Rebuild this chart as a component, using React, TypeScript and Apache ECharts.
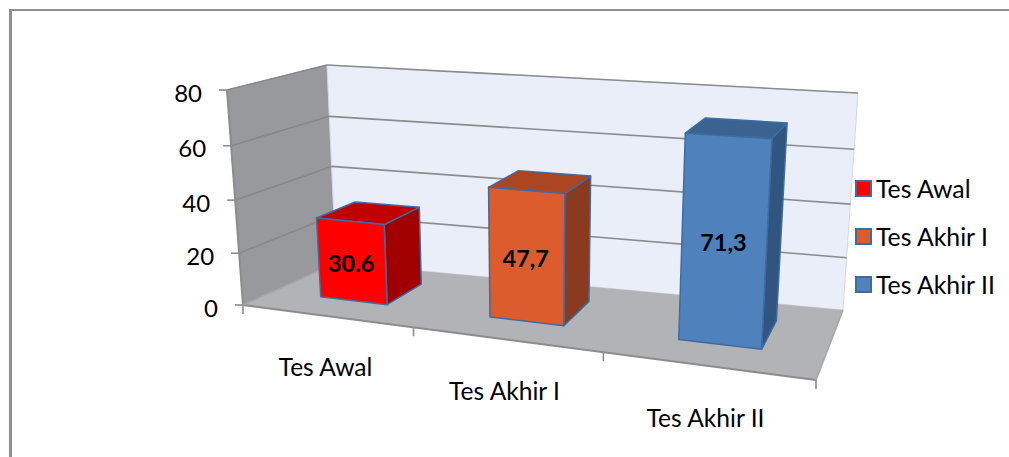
import React, { useEffect, useRef } from "react";
import * as echarts from "echarts";

const categories = ["Tes Awal", "Tes Akhir I", "Tes Akhir II"];
const seriesValues = [30.6, 47.7, 71.3];
const valueLabels = ["30.6", "47,7", "71,3"];
const yTicks = [0, 20, 40, 60, 80];
const frontColors = ["#ff0000", "#dd5c2e", "#4f81bd"];
const topColors = ["#c00000", "#ab4522", "#3b6392"];
const sideColors = ["#a00000", "#8a3a1e", "#2f5580"];
const categoryLabelPos = [[325.5, 366], [504.5, 390], [705.5, 417]];

const FONT = "Lato, Carlito, sans-serif";
const OUTLINE = "#3e6c9f";
const GRID = { left: 100, top: 100, width: 300, height: 300 };

// Box corners on screen: floor and ceiling planes of the 3D chart
const FLOOR = { fl: [243, 305], fr: [816, 380], bl: [336, 263], br: [843, 310] };
const CEIL = { fl: [227, 90], fr: [831, 127], bl: [327, 65], br: [858, 93] };
const U_WARP = 0.18;
const H_WARP = 0.05;
const BAR_U = 0.135;
const BAR_W0 = 0.33;
const BAR_W1 = 0.76;

type Pt = number[];
const lerp = (a: Pt, b: Pt, t: number): Pt => [a[0] + (b[0] - a[0]) * t, a[1] + (b[1] - a[1]) * t];
const plane = (q: typeof FLOOR, u: number, w: number): Pt => {
  const uw = u / (1 + U_WARP * (1 - u));
  return lerp(lerp(q.fl, q.fr, uw), lerp(q.bl, q.br, uw), w);
};
const project = (u: number, w: number, h: number): Pt => {
  const hw = h / (1 + H_WARP * (1 - h));
  return lerp(plane(FLOOR, u, w), plane(CEIL, u, w), hw);
};
const poly = (points: Pt[], fill: string, stroke?: string, lineWidth = 1) => ({
  type: "polygon",
  shape: { points },
  style: { fill, stroke: stroke ?? "none", lineWidth, lineJoin: "round" },
  silent: true,
});
const seg = (a: Pt, b: Pt, stroke: string, lineWidth = 1.6) => ({
  type: "line",
  shape: { x1: a[0], y1: a[1], x2: b[0], y2: b[1] },
  style: { stroke, lineWidth },
  silent: true,
});
const label = (text: string, x: number, y: number, size: number, align: string, weight = "normal") => ({
  type: "text",
  style: {
    text, x, y, fill: "#000", fontSize: size, fontFamily: FONT, fontWeight: weight,
    align, verticalAlign: "middle",
  },
  silent: true,
});

const frameItem = (_p: any, api: any) => {
  const toH = (v: number) => (GRID.top + GRID.height - api.coord([0, v])[1]) / GRID.height;
  const children: any[] = [
    poly([project(0, 0, 0), project(0, 1, 0), project(0, 1, 1), project(0, 0, 1)], "#97999c", "#a9abae"),
    poly([project(0, 1, 0), project(1, 1, 0), project(1, 1, 1), project(0, 1, 1)], "#e9eef8", "#d4d8e0"),
    poly([project(0, 0, 0), project(1, 0, 0), project(1, 1, 0), project(0, 1, 0)], "#b1b3b6"),
  ];
  yTicks.forEach((t) => {
    const h = toH(t);
    const front = project(0, 0, h);
    if (t > 0) {
      children.push(seg(front, project(0, 1, h), "#85878a"));
      children.push(seg(project(0, 1, h), project(1, 1, h), "#8c8c8c"));
    }
    children.push(seg(front, [front[0] - 8, front[1]], "#8c8c8c"));
    children.push(label(String(t), front[0] - 25, front[1] + 2, 24, "right"));
  });
  children.push(seg(project(0, 0, 0), project(0, 0, 1), "#8c8c8c", 2));
  children.push(seg(project(0, 0, 0), project(1, 0, 0), "#8c8c8c", 2));
  children.push(seg(project(1, 0, 0), project(1, 1, 0), "#a6a6a6"));
  children.push(seg(project(0, 0, 0), project(0, 1, 0), "#a6a6a6"));
  categories.concat("").forEach((_, i) => {
    const p = project(i / categories.length, 0, 0);
    children.push(seg(p, [p[0], p[1] + 9], "#8c8c8c"));
  });
  categories.forEach((c, i) => {
    children.push(label(c, categoryLabelPos[i][0], categoryLabelPos[i][1], 24.6, "center"));
  });
  return { type: "group", children };
};

const barItem = (i: number) => (_p: any, api: any) => {
  const pt = api.coord([api.value(0), api.value(1)]);
  const uc = (pt[0] - GRID.left) / GRID.width;
  const h = (GRID.top + GRID.height - pt[1]) / GRID.height;
  const u0 = uc - BAR_U / 2;
  const u1 = uc + BAR_U / 2;
  const a = project(u0, BAR_W0, 0);
  const b = project(u1, BAR_W0, 0);
  const c = project(u1, BAR_W0, h);
  const d = project(u0, BAR_W0, h);
  const e = project(u1, BAR_W1, 0);
  const f = project(u1, BAR_W1, h);
  const g = project(u0, BAR_W1, h);
  const cx = (a[0] + b[0] + c[0] + d[0]) / 4;
  const cy = (a[1] + b[1] + c[1] + d[1]) / 4;
  return {
    type: "group",
    children: [
      poly([b, e, f, c], sideColors[i], OUTLINE, 1.5),
      poly([d, c, f, g], topColors[i], OUTLINE, 1.5),
      poly([a, b, c, d], frontColors[i], OUTLINE, 1.5),
      label(valueLabels[i], cx - 1, cy + 2, 23.5, "center", "bold"),
    ],
  };
};

export default function App() {
  const ref = useRef<HTMLDivElement>(null);
  useEffect(() => {
    const chart = echarts.init(ref.current!, null, { renderer: "svg" });
    chart.setOption({
      animation: false,
      backgroundColor: "#fff",
      grid: GRID,
      xAxis: { type: "category", data: categories, show: false },
      yAxis: { type: "value", min: 0, max: 80, interval: 20, show: false },
      legend: {
        orient: "vertical",
        left: 855,
        top: 176,
        padding: 0,
        itemWidth: 15,
        itemHeight: 15,
        itemGap: 23,
        selectedMode: false,
        icon: "rect",
        textStyle: { fontSize: 24.8, fontFamily: FONT, color: "#000" },
        data: categories.map((name, i) => ({
          name,
          itemStyle: { color: frontColors[i], borderColor: OUTLINE, borderWidth: 2 },
        })),
      },
      graphic: [
        { type: "rect", shape: { x: 9, y: 9, width: 1000, height: 2 }, style: { fill: "#8f8f8f" }, silent: true },
        { type: "rect", shape: { x: 9, y: 9, width: 3, height: 448 }, style: { fill: "#8f8f8f" }, silent: true },
      ],
      series: [
        { type: "custom", name: "frame", silent: true, data: [[0, 0]], renderItem: frameItem, z: 1 },
        ...categories.map((name, i) => ({
          type: "custom",
          name,
          silent: true,
          z: 2,
          itemStyle: { color: frontColors[i] },
          encode: { x: 0, y: 1 },
          data: [[i, seriesValues[i]]],
          renderItem: barItem(i),
        })),
      ],
    });
    return () => chart.dispose();
  }, []);
  return (
    <div
      ref={ref}
      style={{ position: "absolute", left: 0, top: 0, width: 1009, height: 457 }}
    />
  );
}
